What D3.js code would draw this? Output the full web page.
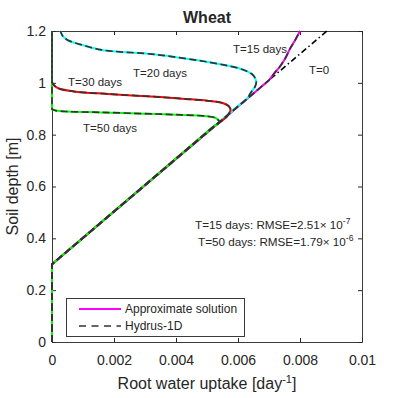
<!DOCTYPE html>
<html>
<head>
<meta charset="utf-8">
<script src="https://cdn.jsdelivr.net/npm/d3@7"></script>
<style>
  body { margin: 0; background: #fff; }
  svg text { font-family: "Liberation Sans", Arial, sans-serif; fill: #262626; }
  .axis path, .axis line { stroke: #262626; }
</style>
</head>
<body>
<div id="chart"></div>
<script>
// Tick values
var xTicks = [0, 0.002, 0.004, 0.006, 0.008, 0.01];
var yTicks = [0, 0.2, 0.4, 0.6, 0.8, 1, 1.2];

// [uptake, depth] points
// zero uptake below the root zone, then the straight T=0 profile
var rootBase = [[0, 0], [0, 0.3]];
var t0Line = [[0, 0], [0, 0.3], [0.00887, 1.2]];

// the curved part of each profile (first point sits on the T=0 line)
var t15 = [[0.0070, 1.01], [0.00718, 1.038], [0.00736, 1.064],
  [0.00753, 1.096], [0.00769, 1.134], [0.00785, 1.166], [0.0080, 1.2]];

var t20 = [[0.0060, 0.91], [0.0063, 0.94], [0.0064, 0.96],
  [0.00655, 0.985], [0.00659, 1.004], [0.0065, 1.028], [0.0063, 1.044],
  [0.0060, 1.057], [0.0055, 1.07], [0.0048, 1.085], [0.0040, 1.099],
  [0.0032, 1.111], [0.0016, 1.127], [0.0010, 1.145], [0.0005, 1.165],
  [0.00035, 1.18], [0.00027, 1.2]];

var t30 = [[0.0052, 0.83], [0.0056, 0.865], [0.0057, 0.88],
  [0.00576, 0.895], [0.0057, 0.91], [0.0055, 0.922], [0.0050, 0.931],
  [0.0043, 0.938], [0.0035, 0.945], [0.0018, 0.957], [0.0007, 0.967],
  [0.0002, 0.979], [0.00003, 0.995], [0, 1.004]];

var t50 = [[0.0049, 0.8], [0.0052, 0.83], [0.0054, 0.848],
  [0.0053, 0.863], [0.0050, 0.871], [0.0040, 0.877], [0.0030, 0.881],
  [0.0016, 0.886], [0.0005, 0.889], [0.00012, 0.893], [0, 0.898]];

// zero uptake above the front (only for profiles that come back to 0)
var t15Top = [];
var t20Top = [];
var t30Top = [[0, 1.2]];
var t50Top = [[0, 1.2]];

var seriesData = [t15, t20, t30, t50];
var seriesTops = [t15Top, t20Top, t30Top, t50Top];
var seriesColors = ["#ff00ff", "#00ffff", "#ff0000", "#00ff00"];

var legendLabels = ["Approximate solution", "Hydrus-1D"];

var svgWidth = 398;
var svgHeight = 398;
var margin = {top: 31, right: 36, bottom: 56, left: 52};
var width = svgWidth - margin.left - margin.right;
var height = svgHeight - margin.top - margin.bottom;

var svg = d3.select("#chart")
  .append("svg")
  .attr("width", svgWidth)
  .attr("height", svgHeight);

var chartGroup = svg.append("g")
  .attr("transform", `translate(${margin.left}, ${margin.top})`);

var xScale = d3.scaleLinear().domain([0, 0.01]).range([0, width]);
var yScale = d3.scaleLinear().domain([0, 1.2]).range([height, 0]);

// axes with inside ticks on all four sides
var fmtX = d => d === 0 ? "0" : String(+d.toFixed(3));
var fmtY = d => String(+d.toFixed(1));

chartGroup.append("g")
  .attr("class", "axis")
  .attr("transform", `translate(0, ${height})`)
  .call(d3.axisBottom(xScale).tickValues(xTicks).tickFormat(fmtX)
    .tickSizeInner(-4).tickSizeOuter(0).tickPadding(13));

chartGroup.append("g")
  .attr("class", "axis")
  .call(d3.axisLeft(yScale).tickValues(yTicks).tickFormat(fmtY)
    .tickSizeInner(-4).tickSizeOuter(0).tickPadding(6));

chartGroup.append("g")
  .attr("class", "axis")
  .call(d3.axisTop(xScale).tickValues(xTicks).tickFormat("")
    .tickSizeInner(-4).tickSizeOuter(0));

chartGroup.append("g")
  .attr("class", "axis")
  .attr("transform", `translate(${width}, 0)`)
  .call(d3.axisRight(yScale).tickValues(yTicks).tickFormat("")
    .tickSizeInner(-4).tickSizeOuter(0));

chartGroup.selectAll(".axis text")
  .style("font-size", "14px")
  .attr("fill", "#262626");
chartGroup.selectAll(".axis path").attr("stroke-width", 0.9);

var straight = d3.line()
  .x(d => xScale(d[0]))
  .y(d => yScale(d[1]));

var smooth = d3.line()
  .x(d => xScale(d[0]))
  .y(d => yScale(d[1]))
  .curve(d3.curveCatmullRom.alpha(0.5));

// straight base -> smooth bulge -> straight top, as one path so dashes run on
function profilePath(bulge, top) {
  var p = straight(rootBase.concat([bulge[0]]));
  p += smooth(bulge).replace(/^M[^LC]*/, "");
  if (top.length) {
    p += straight([bulge[bulge.length - 1]].concat(top)).replace(/^M[^L]*/, "");
  }
  return p;
}

// T=0 reference line (dash-dot)
chartGroup.append("path")
  .datum(t0Line)
  .attr("d", straight)
  .attr("fill", "none")
  .attr("stroke", "#000")
  .attr("stroke-width", 1.6)
  .attr("stroke-dasharray", "6,3,1.5,3");

// approximate solution, coloured solid lines
seriesData.forEach(function (s, i) {
  chartGroup.append("path")
    .attr("d", profilePath(s, seriesTops[i]))
    .attr("fill", "none")
    .attr("stroke", seriesColors[i])
    .attr("stroke-width", 2);
});

// Hydrus-1D, dark dashed lines over the top
seriesData.forEach(function (s, i) {
  chartGroup.append("path")
    .attr("d", profilePath(s, seriesTops[i]))
    .attr("fill", "none")
    .attr("stroke", "#333")
    .attr("stroke-width", 1.7)
    .attr("stroke-dasharray", "7,3.5");
});

// curve labels
var labels = [
  {t: "T=15 days", x: 233, y: 53},
  {t: "T=0", x: 309, y: 74},
  {t: "T=20 days", x: 133, y: 77},
  {t: "T=30 days", x: 68, y: 86},
  {t: "T=50 days", x: 83, y: 132}
];
svg.selectAll(".clabel")
  .data(labels)
  .enter()
  .append("text")
  .attr("class", "clabel")
  .attr("x", d => d.x)
  .attr("y", d => d.y)
  .style("font-size", "11.5px")
  .text(d => d.t);

// RMSE annotations
var rmse1 = svg.append("text").attr("x", 195).attr("y", 229).style("font-size", "11.7px");
rmse1.append("tspan").text("T=15 days: RMSE=2.51\u00d7 10");
rmse1.append("tspan").attr("dy", -5).style("font-size", "8.5px").text("-7");

var rmse2 = svg.append("text").attr("x", 198).attr("y", 246).style("font-size", "11.7px");
rmse2.append("tspan").text("T=50 days: RMSE=1.79\u00d7 10");
rmse2.append("tspan").attr("dy", -5).style("font-size", "8.5px").text("-6");

// title and axis labels
svg.append("text")
  .attr("x", margin.left + width / 2)
  .attr("y", 23)
  .style("text-anchor", "middle")
  .style("font-size", "16px")
  .style("font-weight", "bold")
  .attr("fill", "#000")
  .text("Wheat");

var xLabel = svg.append("text")
  .attr("x", margin.left + width / 2)
  .attr("y", 389)
  .style("text-anchor", "middle")
  .style("font-size", "16px");
xLabel.append("tspan").text("Root water uptake [day");
xLabel.append("tspan").attr("dy", -6).style("font-size", "11px").text("-1");
xLabel.append("tspan").attr("dy", 6).text("]");

svg.append("text")
  .attr("transform", `translate(18, ${margin.top + height / 2}) rotate(-90)`)
  .style("text-anchor", "middle")
  .style("font-size", "16px")
  .text("Soil depth [m]");

// legend
var legend = svg.append("g");
legend.append("rect")
  .attr("x", 66.5)
  .attr("y", 298.5)
  .attr("width", 178)
  .attr("height", 38)
  .attr("fill", "#fff")
  .attr("stroke", "#262626")
  .attr("stroke-width", 0.9);

legend.append("line")
  .attr("x1", 79).attr("x2", 121).attr("y1", 309).attr("y2", 309)
  .attr("stroke", "#ff00ff").attr("stroke-width", 2);
legend.append("line")
  .attr("x1", 79).attr("x2", 121).attr("y1", 326).attr("y2", 326)
  .attr("stroke", "#333").attr("stroke-width", 1.7)
  .attr("stroke-dasharray", "7,5.5");

legend.selectAll(".ltext")
  .data(legendLabels)
  .enter()
  .append("text")
  .attr("class", "ltext")
  .attr("x", 125)
  .attr("y", (d, i) => 313 + i * 17)
  .style("font-size", "12px")
  .text(d => d);
</script>
</body>
</html>
